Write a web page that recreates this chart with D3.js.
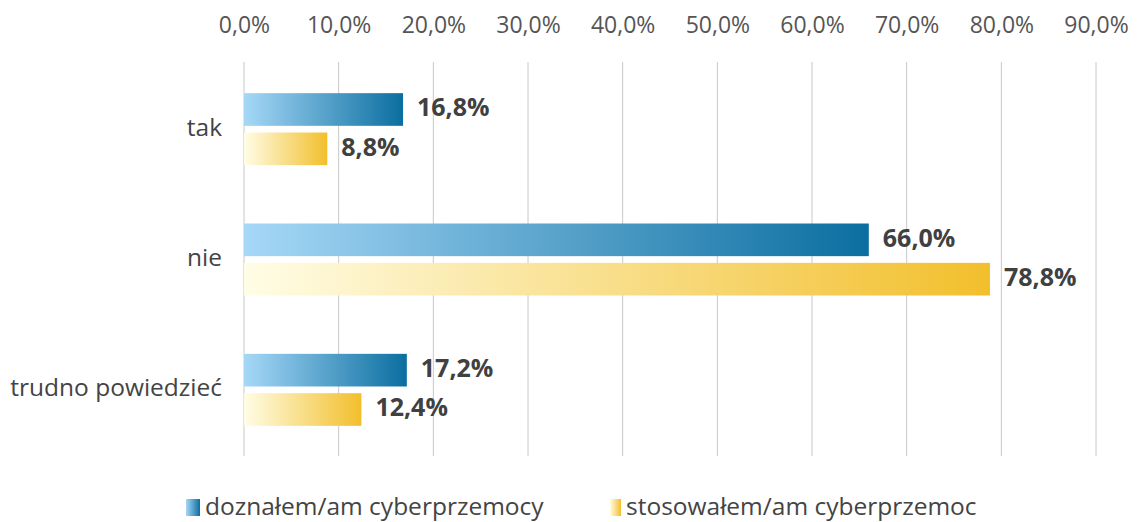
<!DOCTYPE html>
<html>
<head>
<meta charset="utf-8">
<script src="https://d3js.org/d3.v7.min.js"></script>
<style>
  body { margin: 0; background: #fff; }
  text { font-family: "Open Sans", sans-serif; }
</style>
</head>
<body>
<div id="chart"></div>
<script>
"use strict";
var categories = ["tak", "nie", "trudno powiedzieć"];
var seriesNames = ["doznałem/am cyberprzemocy", "stosowałem/am cyberprzemoc"];
var doznal = [16.8, 66.0, 17.2];
var stosowal = [8.8, 78.8, 12.4];
var ticks = [0, 10, 20, 30, 40, 50, 60, 70, 80, 90];

var width = 1138, height = 522;
var svg = d3.select("#chart").append("svg")
    .attr("width", width).attr("height", height);

var defs = svg.append("defs");
var grads = [
  { id: "gBlue", from: "#a6d8f7", to: "#0b6ea0" },
  { id: "gYellow", from: "#fffde6", to: "#f2bf2c" }
];
grads.forEach(function (g) {
  var lg = defs.append("linearGradient").attr("id", g.id)
      .attr("x1", "0%").attr("x2", "100%").attr("y1", "0%").attr("y2", "0%");
  lg.append("stop").attr("offset", "0%").attr("stop-color", g.from);
  lg.append("stop").attr("offset", "100%").attr("stop-color", g.to);
});

var x = d3.scaleLinear().domain([0, 90]).range([244, 1096]);
var y = d3.scaleBand().domain(categories).range([64, 455]).paddingInner(0).paddingOuter(0);
var sub = d3.scaleBand().domain([0, 1]).range([0, 72]).paddingInner(0.17);

// gridlines
svg.append("g").selectAll("line").data(ticks).enter().append("line")
    .attr("x1", d => x(d)).attr("x2", d => x(d))
    .attr("y1", 62).attr("y2", 456)
    .attr("stroke", "#c8c8c8").attr("stroke-width", 1);

// top axis labels
var axis = d3.axisTop(x).tickValues(ticks).tickSize(0).tickPadding(0)
    .tickFormat(d => d3.format(".1f")(d).replace(".", ",") + "%");
var ax = svg.append("g").attr("transform", "translate(0,33)").call(axis);
ax.select(".domain").remove();
ax.selectAll("text").style("font-family", "'Open Sans', sans-serif")
    .style("font-size", "23px").attr("fill", "#555");

// category labels
svg.append("g").selectAll("text").data(categories).enter().append("text")
    .attr("x", 222).attr("y", d => y(d) + y.bandwidth() / 2)
    .attr("text-anchor", "end").attr("dominant-baseline", "middle")
    .style("font-size", "24.5px").attr("fill", "#444").text(d => d);

var series = [doznal, stosowal];
var fills = ["url(#gBlue)", "url(#gYellow)"];
series.forEach(function (vals, si) {
  var g = svg.append("g");
  var top = d => y(categories[d.i]) + y.bandwidth() / 2 - 36 + sub(si);
  var data = vals.map((v, i) => ({ v: v, i: i }));
  g.selectAll("rect").data(data).enter().append("rect")
      .attr("x", x(0)).attr("y", top)
      .attr("width", d => x(d.v) - x(0)).attr("height", sub.bandwidth())
      .attr("fill", fills[si]);
  g.selectAll("text").data(data).enter().append("text")
      .attr("x", d => x(d.v) + 14).attr("y", d => top(d) + sub.bandwidth() / 2)
      .attr("dominant-baseline", "middle")
      .style("font-size", "25px").style("font-weight", "bold")
      .attr("fill", "#404040")
      .text(d => d3.format(".1f")(d.v).replace(".", ",") + "%");
});

// legend
var legX = [186, 610];
var lg = svg.append("g");
seriesNames.forEach(function (n, i) {
  lg.append("rect").attr("x", legX[i]).attr("y", 499)
      .attr("width", i === 0 ? 14 : 11).attr("height", 17).attr("fill", fills[i]);
  lg.append("text").attr("x", legX[i] + (i === 0 ? 19 : 16)).attr("y", 508)
      .attr("dominant-baseline", "middle")
      .style("font-size", "24.5px").attr("fill", "#444").text(n);
});
</script>
</body>
</html>
